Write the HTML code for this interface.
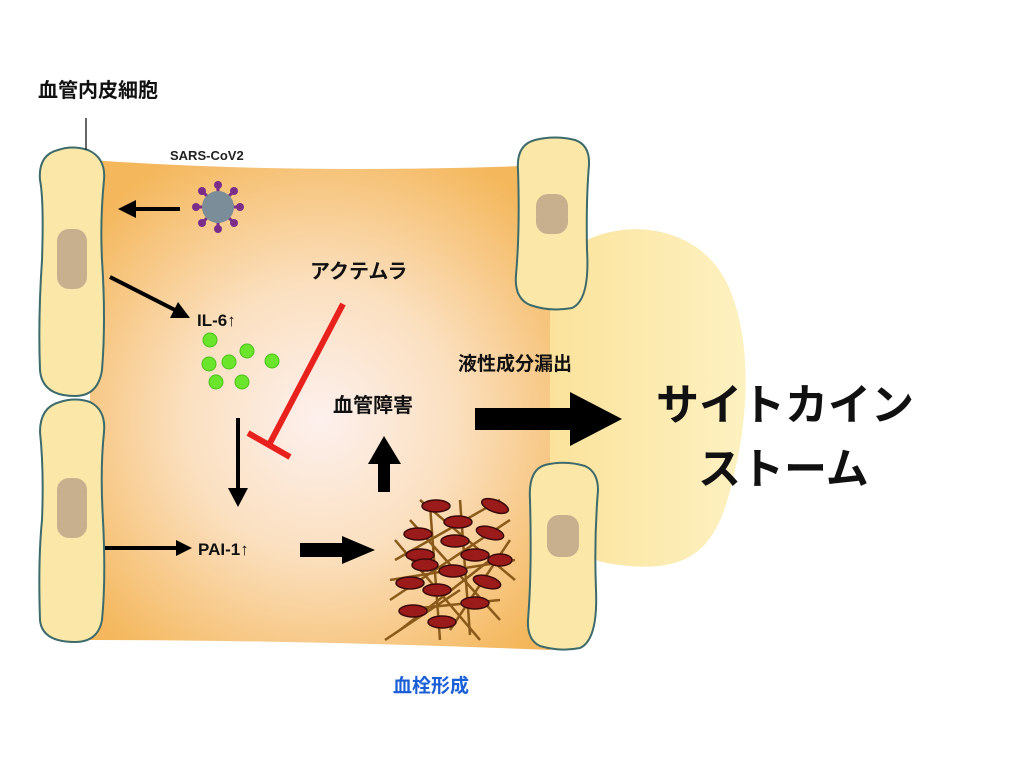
<!DOCTYPE html>
<html><head><meta charset="utf-8"><style>
html,body{margin:0;padding:0;background:#fff;}
svg text{font-family:"Liberation Sans","Noto Sans CJK JP",sans-serif;font-weight:bold;}
</style></head><body>
<svg width="1023" height="768" viewBox="0 0 1023 768" xmlns="http://www.w3.org/2000/svg">
<defs>
<radialGradient id="bg" cx="320" cy="420" r="300" gradientUnits="userSpaceOnUse">
<stop offset="0" stop-color="#fdf0ee"/>
<stop offset="0.45" stop-color="#fbe0c0"/>
<stop offset="1" stop-color="#f4b75c"/>
</radialGradient>
<linearGradient id="blob" x1="540" y1="0" x2="740" y2="0" gradientUnits="userSpaceOnUse">
<stop offset="0" stop-color="#fbe29a"/>
<stop offset="1" stop-color="#fdf1c0"/>
</linearGradient>
</defs>
<!-- blob -->
<path d="M560 260 C600 215 700 215 730 290 C755 350 745 430 735 470 C720 540 700 575 620 565 C570 560 545 530 545 470 L545 300 Z" fill="url(#blob)"/>
<!-- vessel band -->
<path d="M90 160 Q300 175 550 165 L550 650 Q300 640 90 640 Z" fill="url(#bg)"/>
<!-- cells -->
<g fill="#fbe8a8" stroke="#3d6b6b" stroke-width="2">
<path d="M58 150 Q72 145 88 150 Q106 158 104 180 Q100 220 102 260 Q106 320 102 370 Q98 396 75 396 Q42 396 40 370 Q38 320 42 260 Q44 200 40 180 Q38 155 58 150 Z"/>
<path d="M60 402 Q75 397 90 402 Q106 410 104 432 Q100 470 103 520 Q106 580 102 620 Q98 642 75 642 Q42 642 40 620 Q38 560 42 520 Q44 470 40 432 Q40 407 60 402 Z"/>
<path d="M535 140 Q555 135 575 140 Q590 145 589 165 Q586 200 587 250 Q590 300 572 308 Q550 312 530 305 Q514 298 516 275 Q520 230 518 170 Q516 145 535 140 Z"/>
<path d="M545 465 Q565 460 585 466 Q598 472 598 490 Q594 540 596 590 Q598 640 580 648 Q560 652 540 646 Q527 640 528 620 Q532 570 530 500 Q528 470 545 465 Z"/>
</g>
<g fill="#c8b08f">
<rect x="57" y="229" width="30" height="60" rx="12"/>
<rect x="57" y="478" width="30" height="60" rx="12"/>
<rect x="536" y="194" width="32" height="40" rx="12"/>
<rect x="547" y="515" width="32" height="42" rx="12"/>
</g>
<!-- label top-left -->
<text x="38" y="97" font-size="20" fill="#111">血管内皮細胞</text>
<line x1="86" y1="118" x2="86" y2="150" stroke="#333" stroke-width="1.5"/>
<text x="170" y="160" font-size="13" fill="#222">SARS-CoV2</text>
<!-- virus -->
<g stroke="#7b2d8a" stroke-width="3" fill="#7b2d8a">
<line x1="218" y1="187" x2="218" y2="227"/><line x1="198" y1="207" x2="238" y2="207"/>
<line x1="204" y1="193" x2="232" y2="221"/><line x1="232" y1="193" x2="204" y2="221"/>
</g>
<g fill="#7b2d8a">
<circle cx="218" cy="185" r="4"/><circle cx="218" cy="229" r="4"/><circle cx="196" cy="207" r="4"/><circle cx="240" cy="207" r="4"/>
<circle cx="202" cy="191" r="4"/><circle cx="234" cy="223" r="4"/><circle cx="234" cy="191" r="4"/><circle cx="202" cy="223" r="4"/>
</g>
<circle cx="218" cy="207" r="16" fill="#7b8d98"/>
<!-- arrows black -->
<g fill="#000" stroke="#000">
<line x1="180" y1="209" x2="132" y2="209" stroke-width="4"/>
<polygon points="118,209 136,200 136,218" stroke="none"/>
<line x1="110" y1="277" x2="175" y2="310" stroke-width="4"/>
<polygon points="190,318 170,318 178,302" stroke="none"/>
<line x1="238" y1="418" x2="238" y2="490" stroke-width="4"/>
<polygon points="238,507 228,488 248,488" stroke="none"/>
<line x1="105" y1="548" x2="178" y2="548" stroke-width="4"/>
<polygon points="192,548 176,540 176,556" stroke="none"/>
<rect x="300" y="543" width="45" height="14" stroke="none"/>
<polygon points="375,550 342,536 342,564" stroke="none"/>
<rect x="378" y="462" width="12" height="30" stroke="none"/>
<polygon points="384,436 368,464 401,464" stroke="none"/>
<rect x="475" y="408" width="100" height="22" stroke="none"/>
<polygon points="622,419 570,392 570,446" stroke="none"/>
</g>
<!-- red inhibitor -->
<line x1="343" y1="304" x2="270" y2="443" stroke="#e8211c" stroke-width="6"/>
<line x1="248" y1="433" x2="290" y2="457" stroke="#e8211c" stroke-width="6"/>
<!-- green dots -->
<g fill="#6be52b" stroke="#4ac21a" stroke-width="1">
<circle cx="210" cy="340" r="7"/><circle cx="209" cy="364" r="7"/><circle cx="229" cy="362" r="7"/><circle cx="247" cy="351" r="7"/><circle cx="272" cy="361" r="7"/><circle cx="216" cy="382" r="7"/><circle cx="242" cy="382" r="7"/>
</g>
<!-- clot -->
<g stroke="#8a5a1a" stroke-width="2.5">
<line x1="395" y1="560" x2="500" y2="500"/><line x1="390" y1="600" x2="510" y2="520"/><line x1="400" y1="630" x2="490" y2="560"/>
<line x1="410" y1="520" x2="500" y2="620"/><line x1="395" y1="540" x2="480" y2="640"/><line x1="420" y1="500" x2="515" y2="580"/>
<line x1="430" y1="505" x2="440" y2="640"/><line x1="460" y1="500" x2="470" y2="635"/><line x1="390" y1="580" x2="515" y2="560"/>
<line x1="400" y1="610" x2="500" y2="600"/><line x1="385" y1="640" x2="460" y2="590"/><line x1="450" y1="630" x2="510" y2="540"/>
</g>
<g fill="#9b1a1a" stroke="#3a0a0a" stroke-width="1.5">
<ellipse cx="436" cy="506" rx="14" ry="6"/><ellipse cx="495" cy="506" rx="14" ry="6" transform="rotate(20 495 506)"/>
<ellipse cx="458" cy="522" rx="14" ry="6"/><ellipse cx="418" cy="534" rx="14" ry="6"/><ellipse cx="490" cy="533" rx="14" ry="6" transform="rotate(15 490 533)"/>
<ellipse cx="455" cy="541" rx="14" ry="6"/><ellipse cx="420" cy="555" rx="14" ry="6"/><ellipse cx="475" cy="555" rx="14" ry="6"/>
<ellipse cx="500" cy="560" rx="12" ry="6"/><ellipse cx="425" cy="565" rx="13" ry="6"/><ellipse cx="453" cy="571" rx="14" ry="6"/>
<ellipse cx="487" cy="582" rx="14" ry="6" transform="rotate(15 487 582)"/><ellipse cx="410" cy="583" rx="14" ry="6"/><ellipse cx="437" cy="590" rx="14" ry="6"/>
<ellipse cx="475" cy="603" rx="14" ry="6"/><ellipse cx="413" cy="611" rx="14" ry="6"/><ellipse cx="442" cy="622" rx="14" ry="6"/>
</g>
<!-- labels -->
<text x="197" y="326" font-size="17" fill="#111">IL-6↑</text>
<text x="310" y="278" font-size="20" fill="#111">アクテムラ</text>
<text x="333" y="412" font-size="20" fill="#111">血管障害</text>
<text x="458" y="370" font-size="19" fill="#111">液性成分漏出</text>
<text x="198" y="555" font-size="17" fill="#111">PAI-1↑</text>
<text x="393" y="692" font-size="19" fill="#1b5fd6">血栓形成</text>
<text x="656" y="420" font-size="43" fill="#111">サイトカイン</text>
<text x="698" y="484" font-size="43" fill="#111">ストーム</text>
</svg>
</body></html>
